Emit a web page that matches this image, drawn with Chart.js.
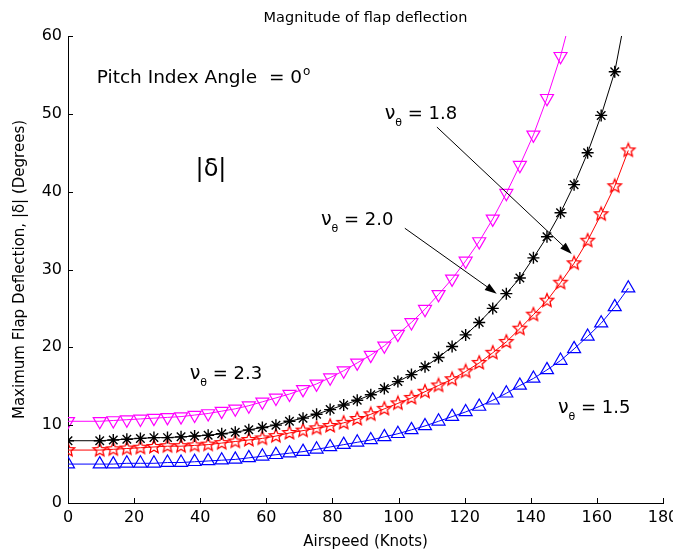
<!DOCTYPE html>
<html><head><meta charset="utf-8">
<script src="https://cdn.jsdelivr.net/npm/chart.js@4/dist/chart.umd.min.js"></script>
<style>html,body{margin:0;padding:0;background:#fff}#wrap{width:673px;height:554px;position:relative}</style>
</head><body><div id="wrap"><canvas id="c" width="673" height="554"></canvas></div>
<script>
// ---- data ----
const airspeed = [0, 9.6, 13.7, 17.8, 21.9, 26.0, 30.1, 34.2, 38.3, 42.4, 46.5, 50.6, 54.7, 58.8, 62.9, 67.0, 71.1, 75.2, 79.3, 83.4, 87.5, 91.6, 95.7, 99.8, 103.9, 108.0, 112.1, 116.2, 120.3, 124.4, 128.5, 132.6, 136.7, 140.8, 144.9, 149.0, 153.1, 157.2, 161.3, 165.4, 169.5];
const nu15 = [5.0, 5.0, 5.0, 5.1, 5.1, 5.1, 5.2, 5.2, 5.3, 5.4, 5.5, 5.6, 5.8, 6.0, 6.2, 6.4, 6.6, 6.9, 7.2, 7.5, 7.8, 8.1, 8.5, 8.9, 9.4, 9.9, 10.5, 11.1, 11.7, 12.4, 13.2, 14.1, 15.1, 16.0, 17.1, 18.3, 19.8, 21.4, 23.1, 25.2, 27.6];
const nu18 = [6.8, 6.8, 6.9, 7.0, 7.1, 7.2, 7.3, 7.3, 7.4, 7.5, 7.7, 7.9, 8.1, 8.3, 8.6, 9.0, 9.3, 9.6, 9.9, 10.3, 10.8, 11.4, 12.1, 12.8, 13.5, 14.3, 15.1, 15.9, 16.9, 18.0, 19.3, 20.7, 22.4, 24.2, 26.0, 28.3, 30.8, 33.7, 37.1, 40.7, 45.3];
const nu20 = [8.0, 8.0, 8.1, 8.2, 8.3, 8.4, 8.4, 8.5, 8.6, 8.7, 8.9, 9.1, 9.4, 9.7, 10.0, 10.5, 10.9, 11.4, 12.0, 12.6, 13.2, 13.9, 14.7, 15.6, 16.5, 17.5, 18.7, 20.1, 21.6, 23.2, 25.0, 26.9, 28.9, 31.5, 34.2, 37.3, 40.9, 45.0, 49.8, 55.4, 64.5];
const nu23 = [10.5, 10.5, 10.6, 10.7, 10.8, 10.9, 11.0, 11.1, 11.3, 11.5, 11.8, 12.1, 12.5, 13.0, 13.5, 14.0, 14.6, 15.3, 16.1, 17.0, 18.0, 19.0, 20.2, 21.7, 23.2, 24.9, 26.8, 28.8, 31.1, 33.6, 36.5, 39.8, 43.4, 47.3, 52.0, 57.4, 64.0, null, null, null, null];
const xTicks = [0, 20, 40, 60, 80, 100, 120, 140, 160, 180];
const yTicks = [0, 10, 20, 30, 40, 50, 60];
const seriesNames = ['1.5', '1.8', '2.0', '2.3'];

const FONT = '"DejaVu Sans", Verdana, sans-serif';

function toPoints(ys) {
  const out = [];
  ys.forEach((y, i) => { if (y !== null) out.push({x: airspeed[i], y: y}); });
  return out;
}
function pentagram(color, r) {
  const s = Math.ceil(r * 2 + 4);
  const c = document.createElement('canvas');
  c.width = s; c.height = s;
  const g = c.getContext('2d');
  g.strokeStyle = color; g.lineWidth = 1.3;
  g.beginPath();
  for (let i = 0; i < 10; i++) {
    const a = -Math.PI / 2 + i * Math.PI / 5;
    const rr = (i % 2) ? r * 0.45 : r;
    g.lineTo(s / 2 + rr * Math.cos(a), s / 2 + rr * Math.sin(a));
  }
  g.closePath(); g.stroke();
  return c;
}

const decor = {
  id: 'decor',
  afterDraw(chart) {
    const ctx = chart.ctx, xs = chart.scales.x, ys = chart.scales.y;
    const X = v => xs.getPixelForValue(v), Y = v => ys.getPixelForValue(v);
    ctx.save();
    // inward ticks
    ctx.strokeStyle = '#000'; ctx.lineWidth = 1;
    xTicks.forEach(t => { const px = Math.round(X(t)) + 0.5; ctx.beginPath(); ctx.moveTo(px, ys.bottom); ctx.lineTo(px, ys.bottom - 5); ctx.stroke(); });
    yTicks.forEach(t => { const py = Math.round(Y(t)) + 0.5; ctx.beginPath(); ctx.moveTo(xs.left, py); ctx.lineTo(xs.left + 5, py); ctx.stroke(); });
    // title
    ctx.fillStyle = '#000';
    ctx.font = '14.5px ' + FONT; ctx.textAlign = 'center'; ctx.textBaseline = 'alphabetic';
    ctx.fillText('Magnitude of flap deflection', (xs.left + xs.right) / 2, 22);
    // pitch text
    ctx.textAlign = 'left';
    ctx.font = '18.5px ' + FONT;
    const pt = 'Pitch Index Angle  = 0';
    ctx.fillText(pt, X(8.7), Y(54.0));
    const w = ctx.measureText(pt).width;
    ctx.font = '12px ' + FONT;
    ctx.fillText('o', X(8.7) + w + 1, Y(54.0) - 8);
    // |delta|
    ctx.font = '24px ' + FONT;
    ctx.fillText('|\u03b4|', X(38.6), Y(42.0));
    // nu labels
    function nu(val, vx, vy) {
      let px = X(vx), py = Y(vy);
      ctx.font = '19px ' + FONT;
      ctx.fillText('\u03bd', px, py);
      px += ctx.measureText('\u03bd').width;
      ctx.font = '11px ' + FONT;
      ctx.fillText('\u03b8', px, py + 7);
      px += ctx.measureText('\u03b8').width;
      ctx.font = '18px ' + FONT;
      ctx.fillText(' = ' + val, px, py);
    }
    nu(seriesNames[1], 95.8, 49.4);
    nu(seriesNames[2], 76.5, 35.7);
    nu(seriesNames[3], 36.8, 15.9);
    nu(seriesNames[0], 148.2, 11.6);
    // arrows
    function arrow(x0, y0, x1, y1) {
      const a = X(x0), b = Y(y0), c = X(x1), d = Y(y1);
      const ang = Math.atan2(d - b, c - a), L = 12, H = 4;
      const bx = c - L * Math.cos(ang), by = d - L * Math.sin(ang);
      ctx.strokeStyle = '#000'; ctx.lineWidth = 1;
      ctx.beginPath(); ctx.moveTo(a, b); ctx.lineTo(bx, by); ctx.stroke();
      ctx.beginPath(); ctx.moveTo(c, d);
      ctx.lineTo(bx - H * Math.sin(ang), by + H * Math.cos(ang));
      ctx.lineTo(bx + H * Math.sin(ang), by - H * Math.cos(ang));
      ctx.closePath(); ctx.fillStyle = '#000'; ctx.fill();
    }
    arrow(111.6, 48.3, 152.4, 32.0);
    arrow(101.9, 35.3, 129.7, 26.9);
    ctx.restore();
  }
};

new Chart(document.getElementById('c'), {
  type: 'line',
  data: {
    datasets: [
      { label: '\u03bd\u03b8 = ' + seriesNames[3], data: toPoints(nu23), borderColor: '#ff00ff', borderWidth: 1,
        pointStyle: 'triangle', rotation: 180, pointRadius: 7.5, pointBorderColor: '#ff00ff', pointBorderWidth: 1.2, pointBackgroundColor: 'rgba(0,0,0,0)' },
      { label: '\u03bd\u03b8 = ' + seriesNames[2], data: toPoints(nu20), borderColor: '#000000', borderWidth: 1,
        pointStyle: 'star', pointRadius: 6, pointBorderColor: '#000', pointBorderWidth: 1.4, pointBackgroundColor: '#000' },
      { label: '\u03bd\u03b8 = ' + seriesNames[1], data: toPoints(nu18), borderColor: '#ff0000', borderWidth: 1,
        pointStyle: pentagram('#ff0000', 7), pointRadius: 6 },
      { label: '\u03bd\u03b8 = ' + seriesNames[0], data: toPoints(nu15), borderColor: '#0000ff', borderWidth: 1,
        pointStyle: 'triangle', pointRadius: 7.5, pointBorderColor: '#0000ff', pointBorderWidth: 1.2, pointBackgroundColor: 'rgba(0,0,0,0)' }
    ]
  },
  options: {
    responsive: false, animation: false, devicePixelRatio: 1,
    layout: { padding: { top: 36, right: 10, left: 0, bottom: 0 } },
    plugins: { legend: { display: false }, tooltip: { enabled: false }, title: { display: false } },
    elements: { line: { tension: 0 } },
    scales: {
      x: {
        type: 'linear', min: 0, max: 180,
        afterBuildTicks: s => { s.ticks = xTicks.map(v => ({value: v})); },
        afterFit: s => { s.height = 51; s.paddingLeft = 0; s.paddingRight = 0; },
        grid: { display: false, drawTicks: false },
        border: { display: true, color: '#000', width: 1 },
        ticks: { color: '#000', font: { family: FONT, size: 16 }, padding: 5, maxRotation: 0, autoSkip: false },
        title: { display: true, text: 'Airspeed (Knots)', color: '#000', font: { family: FONT, size: 15 }, padding: { top: 0, bottom: 3 } }
      },
      y: {
        type: 'linear', min: 0, max: 60,
        afterBuildTicks: s => { s.ticks = yTicks.map(v => ({value: v})); },
        afterFit: s => { s.width = 68; s.paddingTop = 0; s.paddingBottom = 0; },
        grid: { display: false, drawTicks: false },
        border: { display: true, color: '#000', width: 1 },
        ticks: { color: '#000', font: { family: FONT, size: 16 }, padding: 6, autoSkip: false },
        title: { display: true, text: 'Maximum Flap Deflection, |\u03b4| (Degrees)', color: '#000', font: { family: FONT, size: 15 }, padding: { top: 11, bottom: 0 } }
      }
    }
  },
  plugins: [decor]
});
</script></body></html>
